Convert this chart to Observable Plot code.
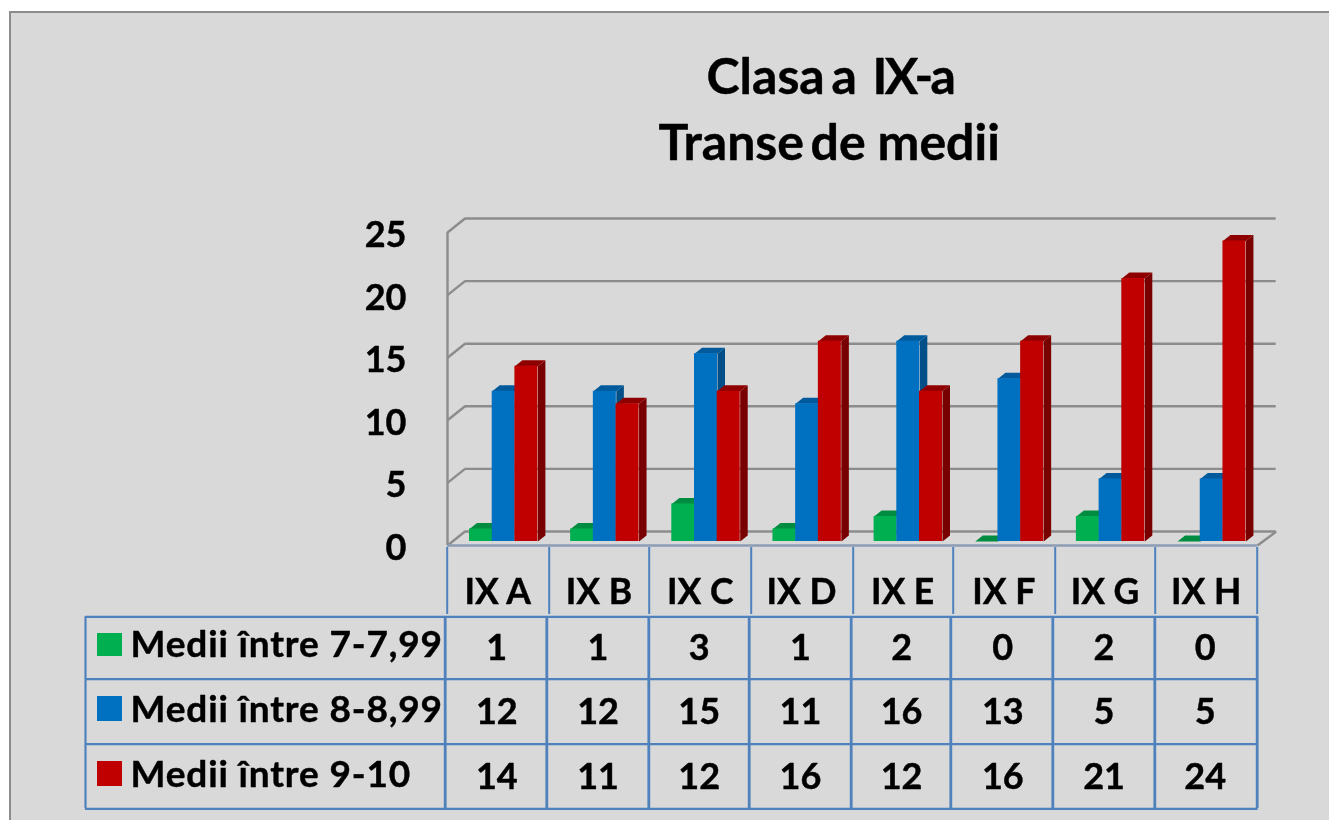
<!DOCTYPE html>
<html>
<head>
<meta charset="utf-8">
<script src="https://cdn.jsdelivr.net/npm/d3@7"></script>
<script src="https://cdn.jsdelivr.net/npm/@observablehq/plot@0.6"></script>
<style>
html,body{margin:0;padding:0;background:#fff;overflow:hidden}
#chart{position:absolute;left:0;top:0;width:1329px;height:820px}
#panel{position:absolute;left:9px;top:11px;width:1320px;height:809px;background:#d9d9d9;border-left:2px solid #8c8c8c;border-top:2px solid #8c8c8c;box-sizing:border-box}
#plot{position:absolute;left:0;top:0}
#plot svg{filter:blur(0.55px)}
.rowlabel text{letter-spacing:0.85px}
.tight text{letter-spacing:-2.6px}
</style>
</head>
<body>
<div id="chart"><div id="panel"></div><div id="plot"></div></div>
<script>
const categories = ["IX A","IX B","IX C","IX D","IX E","IX F","IX G","IX H"];
const seriesNames = ["Medii între 7-7,99","Medii între 8-8,99","Medii între 9-10"];
const seriesColors = ["#00b050","#0070c0","#c00000"];
const topColors = ["#008c40","#005a9c","#8e0000"];
const sideColors = ["#007a36","#004f88","#780000"];
const medii7 = [1,1,3,1,2,0,2,0];
const medii8 = [12,12,15,11,16,13,5,5];
const medii9 = [14,11,12,16,12,16,21,24];
const yTicks = [0,5,10,15,20,25];
const titleWords = [
  {text:"Clasa",px:706,py:77},{text:"a",px:831,py:77},
  {text:"Transe",px:658,py:143},{text:"de",px:810,py:143},{text:"medii",px:877,py:143}
];
const titleTight = [{text:"IX-a",px:872,py:77}];

const allSeries = [medii7,medii8,medii9];
const X0 = 446, COL = 101.4, Y0 = 545, UNIT = 12.52;
const ix = px => (px - X0) / COL;
const iy = py => (Y0 - py) / UNIT;
const depthX = ix(X0 + 18.5), depthY = iy(Y0 - 14);
const barDX = ix(X0 + 7.5), barDY = iy(Y0 - 6);
const barBase = iy(541);

const grey = "#8c8c8c", tableBlue = "#4f81bd";
const font = "Lato";
const txt = {fontFamily:font,fontWeight:700,fill:"#000",stroke:"#000",strokeWidth:0.45};

const barMarks = [];
allSeries.forEach((vals,s)=>{
  const rows = vals.map((v,i)=>{
    const x1 = ix(469 + i*101.15 + s*22.7), x2 = ix(469 + i*101.15 + s*22.7 + 23), top = barBase + v;
    return {i,v,x1,x2,top};
  });
  const side = rows.flatMap(r=>[
    {id:r.i,x:r.x2,y:barBase},{id:r.i,x:r.x2+barDX,y:barBase+barDY},
    {id:r.i,x:r.x2+barDX,y:r.top+barDY},{id:r.i,x:r.x2,y:r.top}]);
  const top = rows.flatMap(r=>[
    {id:r.i,x:r.x1,y:r.top},{id:r.i,x:r.x1+barDX,y:r.top+barDY},
    {id:r.i,x:r.x2+barDX,y:r.top+barDY},{id:r.i,x:r.x2,y:r.top}]);
  barMarks.push(
    Plot.line(side,{x:"x",y:"y",z:"id",fill:sideColors[s],stroke:"none"}),
    Plot.line(top,{x:"x",y:"y",z:"id",fill:topColors[s],stroke:"none"}),
    Plot.rect(rows,{x1:"x1",x2:"x2",y1:barBase,y2:"top",fill:seriesColors[s]})
  );
});

const headerEdges = [446.7,548.7,648.7,750.7,852.7,952.7,1054.7,1154.7,1256.7].map(ix);
const tableEdges = [444.7,546.3,648.3,748.7,850.7,950.3,1052.3,1154.3,1256.7].map(ix);
const rowEdges = [616.3,678.7,743.7,808.3].map(iy);
const rowCenters = [648,712,777].map(iy);
const labelCenters = [645,710,775].map(iy);
const tableLeft = ix(85);
const textX = i => ix(496.3 + i*101.2);

const tableRows = allSeries.flatMap((vals,s)=>vals.map((v,i)=>({x:textX(i),y:rowCenters[s],v})));
const legendRows = seriesNames.map((name,s)=>({name,s,y:labelCenters[s],
  sy1:iy([633,696,761][s]),sy2:iy([656,721,786][s])}));

const plot = Plot.plot({
  width:1329,height:820,
  marginTop:0,marginRight:0,marginBottom:0,marginLeft:0,
  style:{background:"transparent",overflow:"visible"},
  x:{type:"linear",domain:[0,8],range:[X0,X0+8*COL],axis:null},
  y:{type:"linear",domain:[0,25],range:[Y0,Y0-25*UNIT],axis:null},
  marks:[
    Plot.ruleY(yTicks,{y:d=>d+depthY,x1:depthX,x2:8+depthX,stroke:grey,strokeWidth:2.4}),
    Plot.link(yTicks,{x1:ix(447),y1:d=>d,x2:depthX,y2:d=>d+depthY,stroke:grey,strokeWidth:2.4}),
    Plot.ruleX([ix(447)],{y1:0,y2:25,stroke:grey,strokeWidth:2.4}),
    Plot.link([0],{x1:ix(1257),y1:0,x2:8+depthX,y2:depthY,stroke:grey,strokeWidth:2.4}),
    ...barMarks,
    Plot.ruleY([0],{x1:ix(447),x2:ix(1257),stroke:"#8c9cb4",strokeWidth:2.4}),
    Plot.ruleX(headerEdges,{x:d=>d,y1:iy(547),y2:iy(614),stroke:tableBlue,strokeWidth:2}),
    Plot.ruleY(rowEdges,{y:d=>d,x1:tableLeft,x2:ix(1257.5),stroke:tableBlue,strokeWidth:2.2}),
    Plot.ruleX([tableLeft],{y1:rowEdges[0],y2:rowEdges[3],stroke:tableBlue,strokeWidth:2.2}),
    Plot.ruleX(tableEdges,{x:d=>d,y1:rowEdges[0],y2:rowEdges[3],stroke:tableBlue,strokeWidth:2.8}),
    Plot.rect(legendRows,{x1:ix(97),x2:ix(122),y1:"sy1",y2:"sy2",fill:d=>seriesColors[d.s]}),
    Plot.text(yTicks,{x:ix(406),y:d=>d,dy:3,text:d=>String(d),textAnchor:"end",fontSize:36,...txt}),
    Plot.text(categories,{x:(d,i)=>textX(i)+ix(X0+1),y:iy(592),text:d=>d,fontSize:35.5,...txt}),
    Plot.text(tableRows,{x:"x",y:"y",text:d=>String(d.v),fontSize:36,...txt}),
    Plot.text(legendRows,{x:ix(130),y:"y",text:"name",textAnchor:"start",fontSize:37,className:"rowlabel",...txt}),
    Plot.text(titleWords,{x:d=>ix(d.px),y:d=>iy(d.py),text:"text",textAnchor:"start",fontSize:50,...txt}),
    Plot.text(titleTight,{x:d=>ix(d.px),y:d=>iy(d.py),text:"text",textAnchor:"start",fontSize:50,className:"tight",...txt})
  ]
});
document.getElementById("plot").appendChild(plot);
</script>
</body>
</html>
